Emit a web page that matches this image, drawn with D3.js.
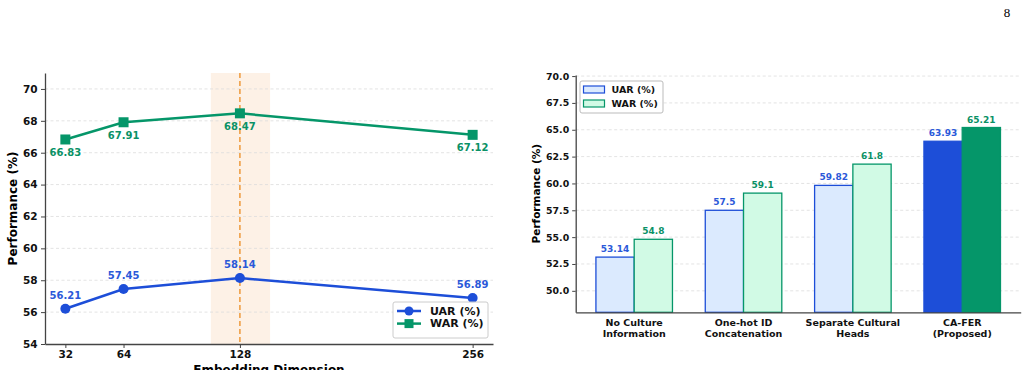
<!DOCTYPE html>
<html>
<head>
<meta charset="utf-8">
<script src="https://cdn.jsdelivr.net/npm/d3@7"></script>
<style>
  html, body { margin: 0; padding: 0; background: #fff; }
  svg { display: block; font-family: "DejaVu Sans", sans-serif; }
  .tick text { font-family: "DejaVu Sans", sans-serif; font-weight: bold; fill: #111; }
</style>
</head>
<body>
<div id="chart"></div>
<script>
// Left panel: embedding dimension sweep
const dims = [32, 64, 128, 256];
const uarDim = [56.21, 57.45, 58.14, 56.89];
const warDim = [66.83, 67.91, 68.47, 67.12];
const leftTicks = [54, 56, 58, 60, 62, 64, 66, 68, 70];

// Right panel: culture conditioning ablation
const methods = [
  ['No Culture', 'Information'],
  ['One-hot ID', 'Concatenation'],
  ['Separate Cultural', 'Heads'],
  ['CA-FER', '(Proposed)']
];
const uarMethod = [53.14, 57.5, 59.82, 63.93];
const warMethod = [54.8, 59.1, 61.8, 65.21];
const rightTicks = [50.0, 52.5, 55.0, 57.5, 60.0, 62.5, 65.0, 67.5, 70.0];

const COLORS = {
  blue: '#1d4ed8',
  green: '#059669',
  blueLight: '#dbeafe',
  greenLight: '#d1fae5',
  blueText: '#2b59d9',
  greenText: '#0a9166',
  axis: '#444',
  grid: '#dcdcdc',
  shade: '#fdf1e6',
  highlight: '#ee9a3c'
};

const W = 1033, H = 370;
const svg = d3.select('#chart').append('svg')
  .attr('width', W).attr('height', H);

// page number
svg.append('text')
  .attr('x', 1007).attr('y', 17)
  .attr('text-anchor', 'middle')
  .style('font-family', '"Liberation Serif", "DejaVu Serif", serif')
  .style('font-size', '13px')
  .text('8');

/**
 * Draw horizontal dashed gridlines
 */
function grid(g, y, ticks, x0, x1) {
  g.append('g').selectAll('line')
    .data(ticks)
    .join('line')
    .attr('x1', x0).attr('x2', x1)
    .attr('y1', d => y(d)).attr('y2', d => y(d))
    .attr('stroke', COLORS.grid)
    .attr('stroke-width', 0.8)
    .attr('stroke-dasharray', '3,2.5');
}

function styleAxis(sel, size) {
  sel.attr('font-family', null);
  sel.select('.domain').attr('stroke', COLORS.axis).attr('stroke-width', 1.3);
  sel.selectAll('.tick line').attr('stroke', COLORS.axis).attr('stroke-width', 1);
  sel.selectAll('.tick text').style('font-size', size + 'px');
}

// ---------- Left chart ----------
(function leftChart() {
  const x0 = 45, x1 = 493, yTop = 73, yBot = 344;
  const x = d3.scaleLinear().domain([20.8, 267.2]).range([x0, x1]);
  const y = d3.scaleLinear().domain([54, 71]).range([yBot, yTop]);
  const g = svg.append('g');

  // highlighted region around 128
  g.append('rect')
    .attr('x', x(112)).attr('width', x(144.6) - x(112))
    .attr('y', yTop).attr('height', yBot - yTop)
    .attr('fill', COLORS.shade);

  grid(g, y, leftTicks.slice(1), x0, x1);

  g.append('line')
    .attr('x1', x(128)).attr('x2', x(128))
    .attr('y1', yTop).attr('y2', yBot)
    .attr('stroke', COLORS.highlight)
    .attr('stroke-width', 1.5)
    .attr('stroke-dasharray', '5,3');

  const yAxis = g.append('g')
    .attr('transform', `translate(${x0},0)`)
    .call(d3.axisLeft(y).tickValues(leftTicks).tickSize(4).tickPadding(3.5).tickSizeOuter(0));
  styleAxis(yAxis, 10.5);

  const xAxis = g.append('g')
    .attr('transform', `translate(0,${yBot})`)
    .call(d3.axisBottom(x).tickValues(dims).tickSize(4).tickPadding(3).tickSizeOuter(0));
  styleAxis(xAxis, 10.5);

  g.append('text')
    .attr('transform', `translate(13,${(yTop + yBot) / 2}) rotate(-90)`)
    .attr('text-anchor', 'middle')
    .attr('dominant-baseline', 'central')
    .style('font-size', '12px').style('font-weight', 'bold')
    .text('Performance (%)');

  g.append('text')
    .attr('x', (x0 + x1) / 2).attr('y', 374)
    .attr('text-anchor', 'middle')
    .style('font-size', '12px').style('font-weight', 'bold')
    .text('Embedding Dimension');

  const line = d3.line().x((d, i) => x(dims[i])).y(d => y(d));

  // UAR
  g.append('path').datum(uarDim)
    .attr('d', line).attr('fill', 'none')
    .attr('stroke', COLORS.blue).attr('stroke-width', 2.5);
  g.append('g').selectAll('circle').data(uarDim).join('circle')
    .attr('cx', (d, i) => x(dims[i])).attr('cy', d => y(d))
    .attr('r', 5).attr('fill', COLORS.blue);
  g.append('g').selectAll('text').data(uarDim).join('text')
    .attr('x', (d, i) => x(dims[i])).attr('y', d => y(d) - 10)
    .attr('text-anchor', 'middle')
    .style('font-size', '10px').style('font-weight', 'bold')
    .attr('fill', COLORS.blueText)
    .text(d => d.toFixed(2));

  // WAR
  g.append('path').datum(warDim)
    .attr('d', line).attr('fill', 'none')
    .attr('stroke', COLORS.green).attr('stroke-width', 2.5);
  g.append('g').selectAll('rect').data(warDim).join('rect')
    .attr('x', (d, i) => x(dims[i]) - 5).attr('y', d => y(d) - 5)
    .attr('width', 10).attr('height', 10).attr('fill', COLORS.green);
  g.append('g').selectAll('text').data(warDim).join('text')
    .attr('x', (d, i) => x(dims[i])).attr('y', d => y(d) + 16.5)
    .attr('text-anchor', 'middle')
    .style('font-size', '10px').style('font-weight', 'bold')
    .attr('fill', COLORS.greenText)
    .text(d => d.toFixed(2));

  // legend
  const lg = g.append('g').attr('transform', 'translate(393,302)');
  lg.append('rect').attr('width', 95).attr('height', 36).attr('rx', 2)
    .attr('fill', 'rgba(255,255,255,0.85)').attr('stroke', '#ccc');
  const rows = [
    { label: 'UAR (%)', color: COLORS.blue, shape: 'circle' },
    { label: 'WAR (%)', color: COLORS.green, shape: 'square' }
  ];
  rows.forEach((r, i) => {
    const cy = 9 + i * 12.6;
    lg.append('line').attr('x1', 4).attr('x2', 28).attr('y1', cy).attr('y2', cy)
      .attr('stroke', r.color).attr('stroke-width', 2.5);
    if (r.shape === 'circle') {
      lg.append('circle').attr('cx', 16).attr('cy', cy).attr('r', 4.5).attr('fill', r.color);
    } else {
      lg.append('rect').attr('x', 11.5).attr('y', cy - 4.5).attr('width', 9).attr('height', 9).attr('fill', r.color);
    }
    lg.append('text').attr('x', 37).attr('y', cy).attr('dominant-baseline', 'central')
      .style('font-size', '11px').style('font-weight', 'bold').attr('fill', '#111')
      .text(r.label);
  });
})();

// ---------- Right chart ----------
(function rightChart() {
  const x0 = 575.7, x1 = 1020.7, yTop = 75, yBot = 312.3;
  const y = d3.scaleLinear().domain([48, 70.1]).range([yBot, yTop]);
  const idx = d3.range(methods.length);
  const x = d3.scaleLinear().domain([-0.535, 3.535]).range([x0, x1]);
  const bw = 0.35;
  const g = svg.append('g');

  grid(g, y, rightTicks, x0, x1);

  const last = methods.length - 1;
  const series = [
    { vals: uarMethod, off: -bw / 2, fill: COLORS.blueLight, stroke: COLORS.blue, text: COLORS.blueText, solid: COLORS.blue },
    { vals: warMethod, off: bw / 2, fill: COLORS.greenLight, stroke: COLORS.green, text: COLORS.greenText, solid: COLORS.green }
  ];
  series.forEach(s => {
    g.append('g').selectAll('rect').data(s.vals).join('rect')
      .attr('x', (d, i) => x(i + s.off - bw / 2))
      .attr('width', x(bw) - x(0))
      .attr('y', d => y(d))
      .attr('height', d => yBot - y(d))
      .attr('fill', (d, i) => i === last ? s.solid : s.fill)
      .attr('stroke', s.stroke)
      .attr('stroke-width', 1.3);
    g.append('g').selectAll('text').data(s.vals).join('text')
      .attr('x', (d, i) => x(i + s.off)).attr('y', d => y(d) - 5)
      .attr('text-anchor', 'middle')
      .style('font-size', '9px').style('font-weight', 'bold')
      .attr('fill', s.text)
      .text(d => d);
  });

  const yAxis = g.append('g')
    .attr('transform', `translate(${x0},0)`)
    .call(d3.axisLeft(y).tickValues(rightTicks).tickFormat(d3.format('.1f'))
      .tickSize(3.5).tickPadding(3).tickSizeOuter(0));
  styleAxis(yAxis, 9.4);

  const xAxis = g.append('g')
    .attr('transform', `translate(0,${yBot})`)
    .call(d3.axisBottom(x).tickValues(idx).tickSize(0).tickSizeOuter(0).tickFormat(''));
  styleAxis(xAxis, 9.5);

  g.append('g').selectAll('text').data(methods).join('text')
    .attr('x', (d, i) => x(i))
    .attr('text-anchor', 'middle')
    .style('font-size', '9.5px').style('font-weight', 'bold').attr('fill', '#111')
    .each(function (d) {
      d3.select(this).selectAll('tspan').data(d).join('tspan')
        .attr('x', d3.select(this).attr('x'))
        .attr('y', (t, j) => 326 + j * 11)
        .text(t => t);
    });

  g.append('text')
    .attr('transform', `translate(536,${(yTop + yBot) / 2}) rotate(-90)`)
    .attr('text-anchor', 'middle')
    .attr('dominant-baseline', 'central')
    .style('font-size', '10.5px').style('font-weight', 'bold')
    .text('Performance (%)');

  // legend
  const lg = g.append('g').attr('transform', 'translate(580,81)');
  lg.append('rect').attr('width', 83).attr('height', 32).attr('rx', 2)
    .attr('fill', 'rgba(255,255,255,0.85)').attr('stroke', '#bbb');
  [
    { label: 'UAR (%)', fill: COLORS.blueLight, stroke: COLORS.blue },
    { label: 'WAR (%)', fill: COLORS.greenLight, stroke: COLORS.green }
  ].forEach((r, i) => {
    const cy = 8.5 + i * 14;
    lg.append('rect').attr('x', 3.5).attr('y', cy - 3.5).attr('width', 21).attr('height', 7)
      .attr('fill', r.fill).attr('stroke', r.stroke).attr('stroke-width', 1.2);
    lg.append('text').attr('x', 31.5).attr('y', cy).attr('dominant-baseline', 'central')
      .style('font-size', '9.5px').style('font-weight', 'bold').attr('fill', '#111')
      .text(r.label);
  });
})();
</script>
</body>
</html>
